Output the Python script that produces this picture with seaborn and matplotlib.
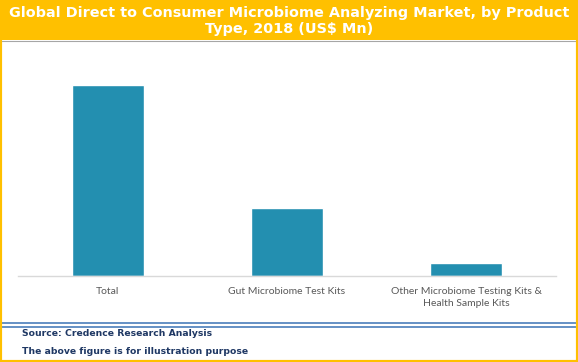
import matplotlib
matplotlib.use("Agg")
import matplotlib.pyplot as plt
import seaborn as sns
import pandas as pd
from matplotlib.patches import Rectangle
from matplotlib.lines import Line2D

# chart data (no axis values shown in the original, read as relative bar heights)
categories = ["Total", "Gut Microbiome Test Kits", "Other Microbiome Testing Kits &\nHealth Sample Kits"]
values = [191, 68, 13]

title = "Global Direct to Consumer Microbiome Analyzing Market, by Product\nType, 2018 (US$ Mn)"
source_lines = ["Source: Credence Research Analysis", "The above figure is for illustration purpose"]

W, H = 578, 362
ORANGE = "#FFC000"
BAR = "#238FB0"

df = pd.DataFrame({"TYPE": categories, "VALUE": values})

sns.set_style("white")
fig = plt.figure(figsize=(W / 100, H / 100), dpi=100)

def fx(px):
    return px / W

def fy(py):
    return 1 - py / H

# header band
fig.patches.append(Rectangle((0, fy(40)), 1, 40 / H, transform=fig.transFigure,
                             facecolor=ORANGE, edgecolor="none", zorder=0))
fig.text(0.5, fy(21), title, ha="center", va="center", color="white",
         fontsize=10.4, fontweight="bold", family="DejaVu Sans", linespacing=1.12)
fig.add_artist(Line2D([0, 1], [fy(40.5), fy(40.5)], color="#A6A6A6", lw=0.8,
                      transform=fig.transFigure))

# plot area
ax = fig.add_axes([fx(18), fy(276), fx(556) - fx(18), (276 - 50) / H])
sns.barplot(x="TYPE", y="VALUE", data=df, color=BAR, width=0.4, saturation=1, ax=ax)
ax.set_xlim(-0.5, 2.5)
ax.set_ylim(0, 226)
ax.set_xlabel("")
ax.set_ylabel("")
ax.set_yticks([])
for s in ["top", "left", "right"]:
    ax.spines[s].set_visible(False)
ax.spines["bottom"].set_color("#D9D9D9")
ax.spines["bottom"].set_linewidth(1)
ax.tick_params(axis="x", which="major", length=0, pad=8, labelsize=7.5, labelcolor="#595959")
ax.set_xticks([-0.5, 0.5, 1.5, 2.5], minor=True)
ax.tick_params(axis="x", which="minor", length=5, color="#D9D9D9", width=1)
for lbl in ax.get_xticklabels():
    lbl.set_family("Lato")
    lbl.set_linespacing(1.35)

# footer double rule and notes
for yy in (323, 327):
    fig.add_artist(Line2D([0, 1], [fy(yy), fy(yy)], color="#4A7EBB", lw=1.2,
                          transform=fig.transFigure))
fig.text(fx(22), fy(334), source_lines[0], ha="left", va="center", color="#1F3864",
         fontsize=6.7, fontweight="bold", family="DejaVu Sans")
fig.text(fx(22), fy(352), source_lines[1], ha="left", va="center", color="#1F3864",
         fontsize=6.7, fontweight="bold", family="DejaVu Sans")

# orange frame
fig.patches.append(Rectangle((0, 0), 1, 1, transform=fig.transFigure, facecolor="none",
                             edgecolor=ORANGE, lw=3, zorder=10))

fig.savefig("out.png", dpi=100)
